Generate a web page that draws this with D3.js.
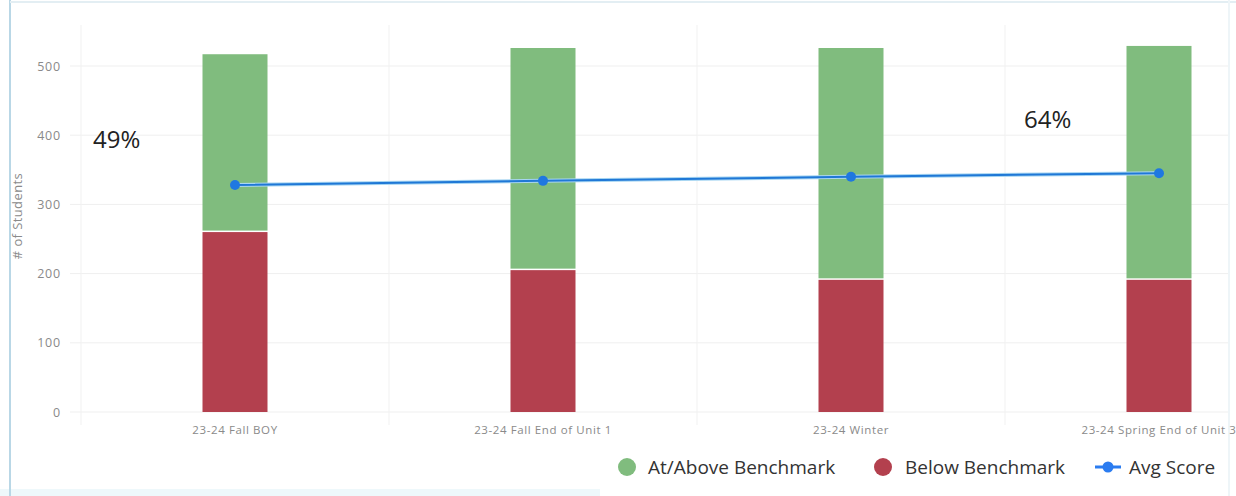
<!DOCTYPE html>
<html lang="en">
<head>
<meta charset="UTF-8">
<title>Benchmark Chart</title>
<script src="https://d3js.org/d3.v7.min.js"></script>
<style>
  body {margin:0; background-color:#ffffff;}
  svg {display:block;}
</style>
</head>
<body>
<div id="chart"></div>
<script>
// data
var periods = ["23-24 Fall BOY","23-24 Fall End of Unit 1","23-24 Winter","23-24 Spring End of Unit 3"];
var below = [260, 205, 191, 191];
var atAbove = [257, 321, 335, 338];
var avgScore = [328, 334, 340, 345];
var yTicks = [0, 100, 200, 300, 400, 500];
var notes = [["49%", 0], ["64%", 3]];

var w = 1236, h = 496;
var left = 81, right = 1313, bottom = 412;

var svg = d3.select("#chart").append("svg")
    .attr("width", w)
    .attr("height", h);

// screenshot frame
svg.append("rect").attr("x", 0).attr("y", 489).attr("width", 600).attr("height", 7).attr("fill", "#eef8fb");
svg.append("line").attr("x1", 10).attr("x2", 10).attr("y1", 0).attr("y2", 496)
    .attr("stroke", "#b9d7e6").attr("stroke-width", 2);
svg.append("line").attr("x1", 10).attr("x2", 1236).attr("y1", 2).attr("y2", 2)
    .attr("stroke", "#e3eef3").attr("stroke-width", 2);
svg.append("line").attr("x1", 1229).attr("x2", 1229).attr("y1", 0).attr("y2", 496)
    .attr("stroke", "#eef5f8").attr("stroke-width", 2);

var x = d3.scaleBand().domain(periods).range([left, right]).padding(0);
var y = d3.scaleLinear().domain([0, 500]).range([bottom, 66]);

var g = svg.append("g");

// grid
g.selectAll("line.hgrid").data(yTicks).enter().append("line")
    .attr("class", "hgrid")
    .attr("x1", 70).attr("x2", 1228)
    .attr("y1", function(d) {return y(d);})
    .attr("y2", function(d) {return y(d);})
    .attr("stroke", "#efefef");
g.selectAll("line.vgrid").data(periods).enter().append("line")
    .attr("class", "vgrid")
    .attr("x1", function(d) {return x(d);})
    .attr("x2", function(d) {return x(d);})
    .attr("y1", 25).attr("y2", 425)
    .attr("stroke", "#f1f1f1");

// y axis
var yAxis = d3.axisLeft(y).tickValues(yTicks).tickSize(0).tickPadding(0);
var ya = g.append("g").attr("transform", "translate(61,0)").call(yAxis);
ya.select(".domain").remove();
ya.selectAll("text")
    .attr("fill", "#8a8a8a")
    .attr("font-family", "'Open Sans', sans-serif")
    .attr("font-size", "12.5px")
    .attr("letter-spacing", "0.8px");

g.append("text")
    .attr("transform", "translate(22,216) rotate(-90)")
    .attr("text-anchor", "middle")
    .attr("font-family", "'Open Sans', sans-serif")
    .attr("font-size", "13px")
    .attr("letter-spacing", "0.4px")
    .attr("fill", "#8a8a8a")
    .text("# of Students");

// x axis
var xAxis = d3.axisBottom(x).tickSize(0).tickPadding(0);
var xa = g.append("g").attr("transform", "translate(0,426)").call(xAxis);
xa.select(".domain").remove();
xa.selectAll("text")
    .attr("fill", "#8a8a8a")
    .attr("font-family", "'Open Sans', sans-serif")
    .attr("font-size", "11.5px")
    .attr("letter-spacing", "0.6px");

// stacked bars
var bw = 65;
g.selectAll("rect.below").data(periods).enter().append("rect")
    .attr("class", "below")
    .attr("x", function(d) {return x(d) + x.bandwidth() / 2 - bw / 2;})
    .attr("y", function(d, i) {return y(below[i]);})
    .attr("width", bw)
    .attr("height", function(d, i) {return y(0) - y(below[i]);})
    .attr("fill", "#b3404e");
g.selectAll("rect.above").data(periods).enter().append("rect")
    .attr("class", "above")
    .attr("x", function(d) {return x(d) + x.bandwidth() / 2 - bw / 2;})
    .attr("y", function(d, i) {return y(below[i] + atAbove[i]);})
    .attr("width", bw)
    .attr("height", function(d, i) {return y(below[i]) - y(below[i] + atAbove[i]) - 1.5;})
    .attr("fill", "#80bc7e");

// avg score line
var line = d3.line()
    .x(function(d, i) {return x(periods[i]) + x.bandwidth() / 2;})
    .y(function(d) {return y(d);});
g.append("path").datum(avgScore)
    .attr("d", line)
    .attr("fill", "none")
    .attr("stroke", "#a8d6f2")
    .attr("stroke-width", 4);
g.append("path").datum(avgScore)
    .attr("d", line)
    .attr("fill", "none")
    .attr("stroke", "#1f78d6")
    .attr("stroke-width", 2);
g.selectAll("circle.avg").data(avgScore).enter().append("circle")
    .attr("class", "avg")
    .attr("cx", function(d, i) {return x(periods[i]) + x.bandwidth() / 2;})
    .attr("cy", function(d) {return y(d);})
    .attr("r", 5)
    .attr("fill", "#1f78e0");

// percent notes
g.append("text").attr("x", 93).attr("y", 148)
    .attr("font-family", "'Open Sans', sans-serif")
    .attr("font-size", "24px")
    .attr("fill", "#222")
    .text(notes[0][0]);
g.append("text").attr("x", 1024).attr("y", 128)
    .attr("font-family", "'Open Sans', sans-serif")
    .attr("font-size", "24px")
    .attr("fill", "#222")
    .text(notes[1][0]);

// legend
var leg = svg.append("g").attr("font-family", "'Open Sans', sans-serif").attr("font-size", "19px").attr("fill", "#333");
leg.append("circle").attr("cx", 627).attr("cy", 467).attr("r", 9).attr("fill", "#80bc7e");
leg.append("text").attr("x", 648).attr("y", 474).text("At/Above Benchmark");
leg.append("circle").attr("cx", 883).attr("cy", 467).attr("r", 9).attr("fill", "#b3404e");
leg.append("text").attr("x", 905).attr("y", 474).text("Below Benchmark");
leg.append("line").attr("x1", 1095).attr("x2", 1121).attr("y1", 467).attr("y2", 467)
    .attr("stroke", "#2b7cf0").attr("stroke-width", 3);
leg.append("circle").attr("cx", 1108).attr("cy", 467).attr("r", 5.5).attr("fill", "#2b7cf0");
leg.append("text").attr("x", 1129).attr("y", 474).text("Avg Score");
</script>
</body>
</html>
